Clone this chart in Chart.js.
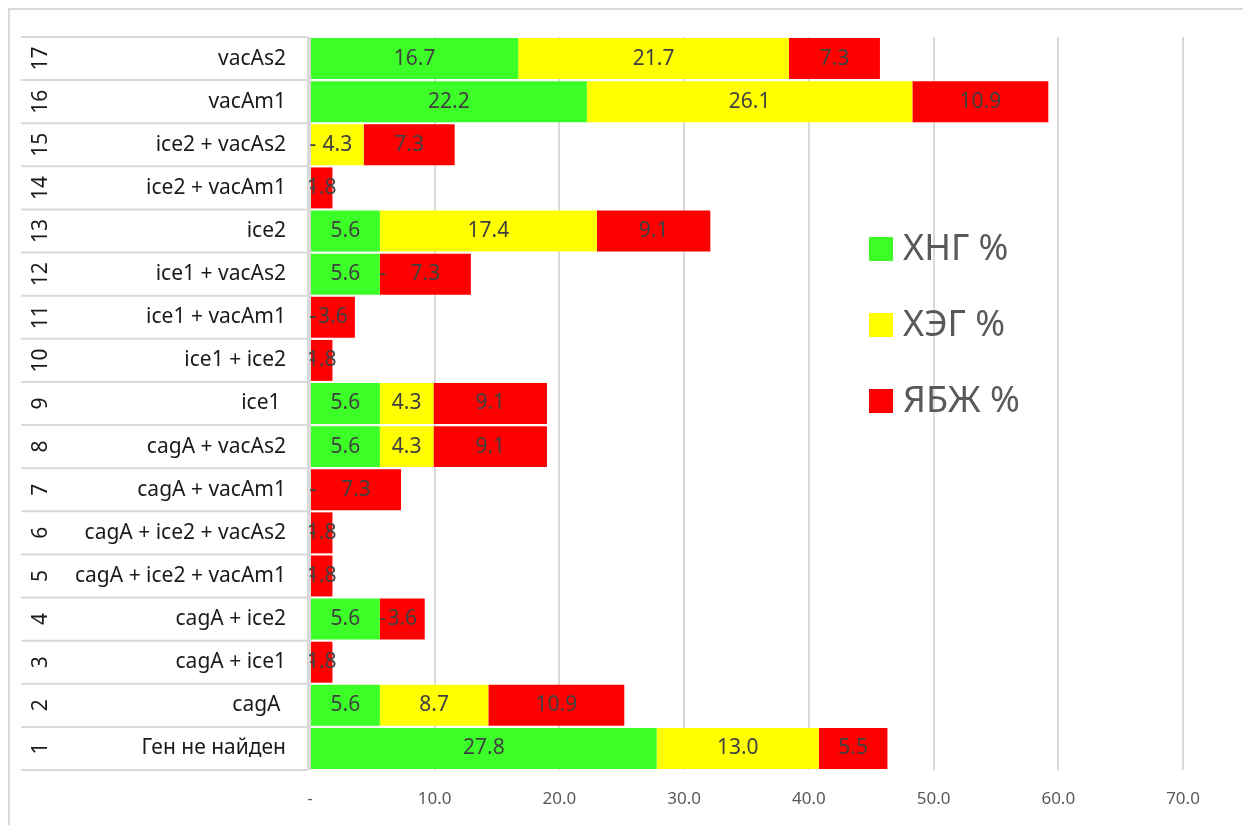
<!DOCTYPE html>
<html>
<head>
<meta charset="utf-8">
<script src="https://cdn.jsdelivr.net/npm/chart.js@4"></script>
<style>
  html, body { margin: 0; padding: 0; background: #fff; }
  #wrap { width: 1243px; height: 825px; }
</style>
</head>
<body>
<div id="wrap"><canvas id="genes"></canvas></div>
<script>
// categories, bottom (1) to top (17)
const numbers = ['1', '2', '3', '4', '5', '6', '7', '8', '9', '10', '11', '12', '13', '14', '15', '16', '17'];
const names = ['Ген не найден', 'cagA ', 'cagA + ice1', 'cagA + ice2', 'cagA + ice2 + vacAm1', 'cagA + ice2 + vacAs2',
	'cagA + vacAm1', 'cagA + vacAs2', 'ice1 ', 'ice1 + ice2', 'ice1 + vacAm1', 'ice1 + vacAs2', 'ice2',
	'ice2 + vacAm1', 'ice2 + vacAs2', 'vacAm1', 'vacAs2'];

// series
const xng = [27.8, 5.6, 0, 5.6, 0, 0, 0, 5.6, 5.6, 0, 0, 5.6, 5.6, 0, 0, 22.2, 16.7];
const xeg = [13.0, 8.7, 0, 0, 0, 0, 0, 4.3, 4.3, 0, 0, 0, 17.4, 0, 4.3, 26.1, 21.7];
const ybzh = [5.5, 10.9, 1.8, 3.6, 1.8, 1.8, 7.3, 9.1, 9.1, 1.8, 3.6, 7.3, 9.1, 1.8, 7.3, 10.9, 7.3];

const seriesNames = ['ХНГ %', 'ХЭГ %', 'ЯБЖ %'];
const colors = ['#3dff28', '#ffff00', '#ff0000'];

const FONT = '"Noto Sans", "Open Sans", sans-serif';

const drawing = {
	id: 'drawing',
	beforeDraw(chart) {
		const ctx = chart.ctx;
		ctx.save();
		ctx.fillStyle = '#fff';
		ctx.fillRect(0, 0, chart.width, chart.height);
		// outer frame
		ctx.strokeStyle = '#d9d9d9';
		ctx.lineWidth = 2;
		ctx.strokeRect(9, 9, chart.width + 20, chart.height + 20);
		ctx.restore();
	},
	afterDatasetsDraw(chart) {
		const ctx = chart.ctx;
		const area = chart.chartArea;
		const y = chart.scales.y;
		ctx.save();

		// value labels
		ctx.font = '21px ' + FONT;
		ctx.fillStyle = '#404040';
		ctx.textBaseline = 'middle';
		ctx.textAlign = 'center';
		chart.data.datasets.forEach((ds, i) => {
			chart.getDatasetMeta(i).data.forEach((bar, j) => {
				const v = ds.data[j];
				if (v === 0) {
					ctx.fillText('-', bar.base + 3, bar.y);
				} else {
					ctx.fillText(v.toFixed(1), (bar.x + bar.base) / 2, bar.y);
				}
			});
		});

		// category axis: separators, numbers, names
		const step = Math.abs(y.getPixelForValue(1) - y.getPixelForValue(0));
		ctx.strokeStyle = '#d9d9d9';
		ctx.lineWidth = 2;
		ctx.beginPath();
		ctx.moveTo(area.left - 2, area.top);
		ctx.lineTo(area.left - 2, area.bottom);
		for (let i = 0; i < names.length; i++) {
			const yy = y.getPixelForValue(i) + step / 2;
			ctx.moveTo(21, yy);
			ctx.lineTo(area.left - 2, yy);
		}
		ctx.moveTo(21, area.top);
		ctx.lineTo(area.left - 2, area.top);
		ctx.stroke();

		ctx.fillStyle = '#1a1a1a';
		ctx.font = '21px ' + FONT;
		names.forEach((n, i) => {
			const yy = y.getPixelForValue(i);
			ctx.textAlign = 'right';
			ctx.fillText(n, 286, yy);
			ctx.save();
			ctx.translate(41, yy);
			ctx.rotate(-Math.PI / 2);
			ctx.textAlign = 'center';
			ctx.fillText(numbers[i], 0, 0);
			ctx.restore();
		});

		// legend
		ctx.font = '36px ' + FONT;
		ctx.textAlign = 'left';
		seriesNames.forEach((s, i) => {
			const ly = 249 + i * 76;
			ctx.fillStyle = colors[i];
			ctx.fillRect(869, ly - 12, 24, 24);
			ctx.fillStyle = '#595959';
			ctx.fillText(s, 903, ly + 1);
		});
		ctx.restore();
	}
};

new Chart(document.getElementById('genes'), {
	type: 'bar',
	data: {
		labels: names,
		datasets: seriesNames.map((s, i) => ({
			label: s,
			data: [xng, xeg, ybzh][i],
			backgroundColor: colors[i],
			borderWidth: 0,
			barPercentage: 0.95,
			categoryPercentage: 1
		}))
	},
	options: {
		indexAxis: 'y',
		responsive: true,
		maintainAspectRatio: false,
		animation: false,
		layout: { padding: { left: 0, right: 60, top: 37, bottom: 0 } },
		plugins: {
			legend: { display: false },
			tooltip: { enabled: false }
		},
		scales: {
			x: {
				stacked: true,
				min: 0,
				max: 70,
				ticks: {
					stepSize: 10,
					padding: 19,
					color: '#595959',
					font: { family: FONT, size: 17 },
					callback: v => v === 0 ? '-' : v.toFixed(1)
				},
				grid: { color: '#d9d9d9', lineWidth: 2, drawTicks: false },
				border: { display: false },
				afterFit: s => { s.height = 55; }
			},
			y: {
				stacked: true,
				reverse: true,
				ticks: { display: false },
				grid: { display: false },
				border: { display: false },
				afterFit: s => { s.width = 310; }
			}
		}
	},
	plugins: [drawing]
});
</script>
</body>
</html>
